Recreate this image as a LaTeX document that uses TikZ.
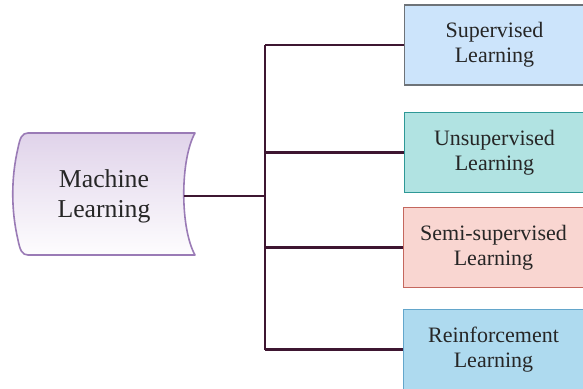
\documentclass[tikz,border=0pt]{standalone}
\usepackage{fontspec}
\setmainfont{Liberation Serif}
\definecolor{mlline}{HTML}{9A7BB6}
\definecolor{mltop}{HTML}{E0D3EA}
\definecolor{trunk}{HTML}{3E1631}
\definecolor{supfill}{HTML}{CCE4FB}
\definecolor{supline}{HTML}{6E7378}
\definecolor{unsfill}{HTML}{B1E3E2}
\definecolor{unsline}{HTML}{2E9896}
\definecolor{semfill}{HTML}{F9D6D1}
\definecolor{semline}{HTML}{C4675E}
\definecolor{reifill}{HTML}{AEDAEF}
\definecolor{reiline}{HTML}{63A6CB}
\tikzset{
  leaf/.style={draw,line width=1.1pt,minimum width=165pt,minimum height=60pt,anchor=west,inner sep=0pt},
  leaftext/.style={align=center,font=\fontsize{16.5}{18.8}\selectfont,text=black!85},
  wire/.style={draw=trunk,line width=2.2pt}
}
\begin{document}
\begin{tikzpicture}[x=0.75pt,y=-0.75pt]
	\useasboundingbox (0,0) rectangle (583,389);
	\clip (0,0) rectangle (583,389);
	\fill[white] (0,0) rectangle (583,389);
	% central shape
	\draw[mlline,line width=1.2pt,top color=mltop,bottom color=white!95!mltop,line join=round]
	   (28,133) -- (195,133) .. controls (180,160) and (180,228) .. (195,255)
	   -- (28,255) .. controls (22,255) and (20,250) .. (18,240)
	   .. controls (11,210) and (11,178) .. (18,148)
	   .. controls (20,138) and (22,133) .. (28,133) -- cycle;
	\node[align=center,font=\fontsize{19.3}{22.5}\selectfont,text=black!85] (ml) at (104,196) {Machine\\Learning};
	\coordinate (mlr) at (183.5,196);
	\coordinate (hub) at (265,196);
	% leaves
	\node[leaf,fill=supfill,draw=supline] (sup) at (404,45) {};
	\node[leaf,fill=unsfill,draw=unsline] (uns) at (404,152.5) {};
	\node[leaf,fill=semfill,draw=semline] (sem) at (403,247.5) {};
	\node[leaf,fill=reifill,draw=reiline] (rei) at (403,349.5) {};
	\node[leaftext] (sup-t) at (494.5,45) {Supervised\\Learning};
	\node[leaftext] (uns-t) at (494.5,152.5) {Unsupervised\\Learning};
	\node[leaftext] (sem-t) at (493.5,247.5) {Semi-supervised\\Learning};
	\node[leaftext] (rei-t) at (493.5,349.5) {Reinforcement\\Learning};
	% connectors
	\draw[wire] (mlr) -- (hub);
	\draw[wire] (hub |- sup.west) -- (hub |- rei.west);
	\foreach \n in {sup,uns,sem,rei} {
		\draw[wire] (hub |- \n.west) -- (\n.west);}
\end{tikzpicture}
\end{document}
